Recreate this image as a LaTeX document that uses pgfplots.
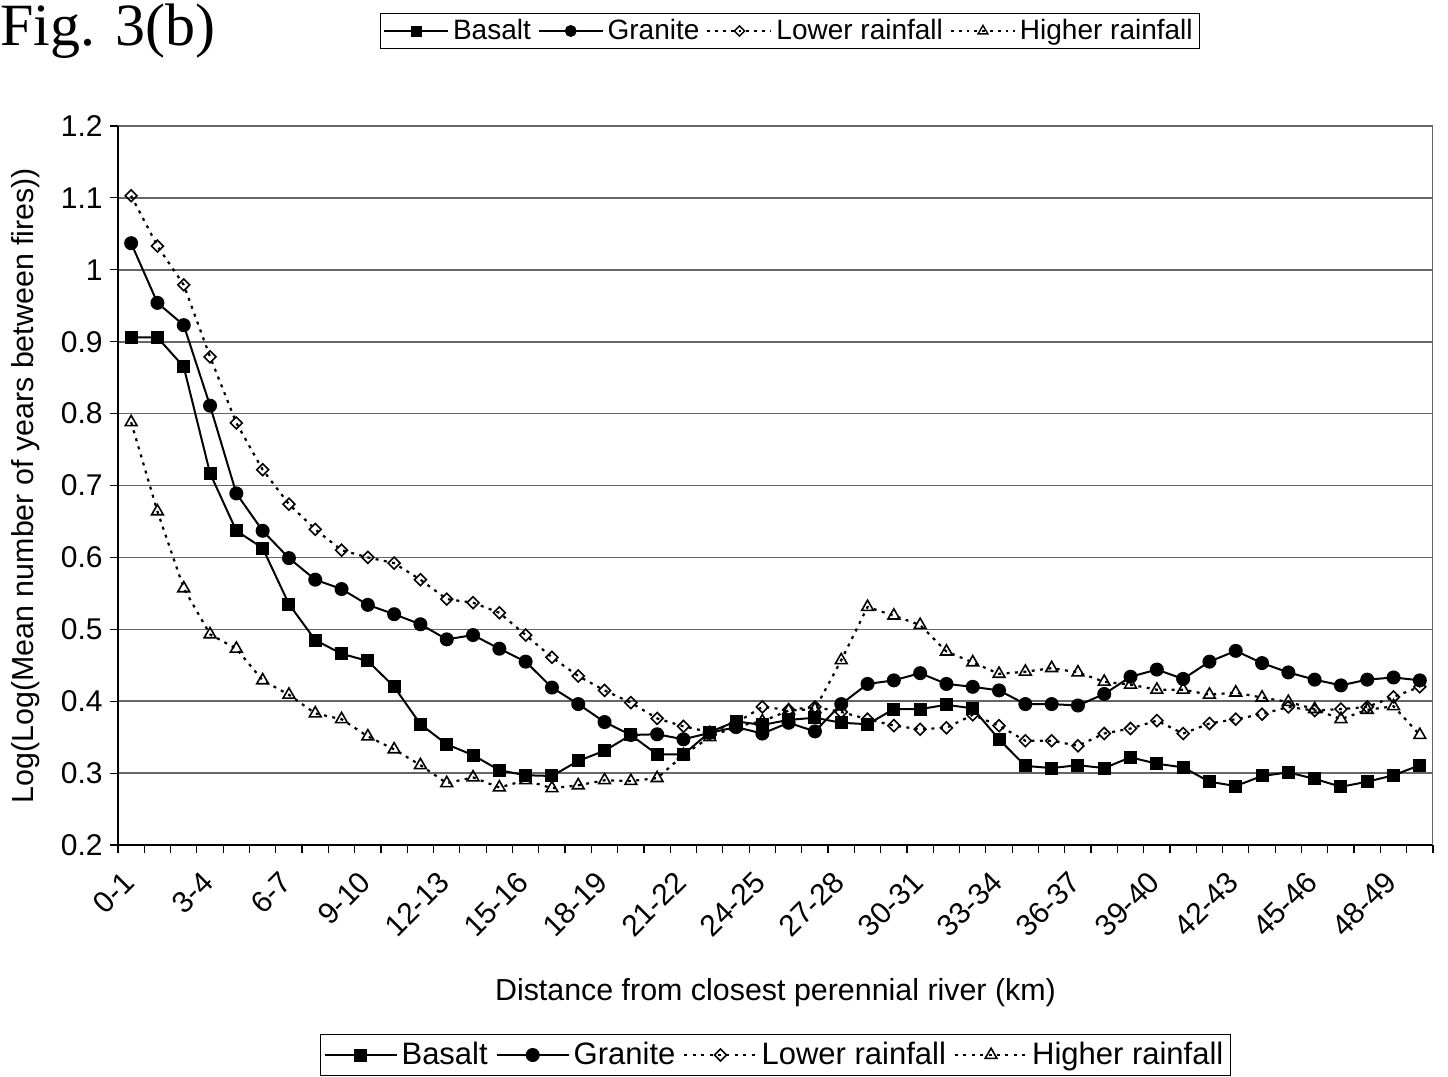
\documentclass[border=0pt]{standalone}
\usepackage{fontspec}
\setmainfont{Liberation Sans}
\newfontfamily\timesf{Liberation Serif}
\usepackage{pgfplots}
\pgfplotsset{compat=1.18}
\usepackage{pgfplotstable}

\pgfplotstableread{
x b g l h
0 0.906 1.037 1.103 0.788
1 0.906 0.954 1.033 0.664
2 0.865 0.923 0.979 0.557
3 0.717 0.811 0.879 0.493
4 0.637 0.689 0.787 0.473
5 0.613 0.637 0.722 0.429
6 0.535 0.599 0.674 0.409
7 0.485 0.569 0.639 0.383
8 0.466 0.556 0.610 0.375
9 0.456 0.534 0.600 0.351
10 0.420 0.521 0.592 0.333
11 0.368 0.507 0.569 0.311
12 0.340 0.486 0.542 0.286
13 0.325 0.492 0.537 0.294
14 0.304 0.473 0.523 0.280
15 0.297 0.455 0.492 0.290
16 0.296 0.419 0.461 0.279
17 0.317 0.396 0.435 0.283
18 0.331 0.371 0.415 0.290
19 0.353 0.353 0.398 0.289
20 0.326 0.354 0.376 0.293
21 0.326 0.347 0.365 0.325
22 0.357 0.356 0.357 0.350
23 0.372 0.364 0.370 0.365
24 0.367 0.355 0.392 0.372
25 0.374 0.370 0.388 0.387
26 0.377 0.358 0.392 0.389
27 0.370 0.396 0.385 0.457
28 0.368 0.424 0.375 0.531
29 0.389 0.429 0.366 0.519
30 0.389 0.439 0.361 0.506
31 0.395 0.424 0.363 0.469
32 0.390 0.420 0.381 0.454
33 0.347 0.415 0.366 0.438
34 0.310 0.396 0.345 0.441
35 0.307 0.396 0.345 0.446
36 0.311 0.394 0.338 0.440
37 0.307 0.410 0.355 0.427
38 0.322 0.434 0.362 0.423
39 0.313 0.444 0.373 0.416
40 0.308 0.431 0.355 0.416
41 0.288 0.455 0.369 0.409
42 0.282 0.470 0.375 0.412
43 0.296 0.453 0.382 0.405
44 0.301 0.440 0.392 0.399
45 0.292 0.430 0.387 0.389
46 0.281 0.422 0.389 0.375
47 0.288 0.430 0.392 0.388
48 0.297 0.433 0.406 0.393
49 0.311 0.429 0.420 0.353
}\data

\pgfplotsset{
  basaltstyle/.style={black, line width=1pt, mark=square*, mark size=2.75pt, mark options={solid}},
  granitestyle/.style={black, line width=1pt, mark=*, mark size=3pt, mark options={solid}},
  lowerstyle/.style={black, line width=1.1pt, dash pattern=on 1.5pt off 2.7pt, mark=square, mark size=2.1pt, mark options={solid, fill=white, rotate=45, line width=0.8pt}},
  higherstyle/.style={black, line width=1.1pt, dash pattern=on 1.5pt off 2.7pt, mark=triangle, mark size=3.4pt, mark options={solid, fill=white, line width=0.8pt}},
  % small variants for the top legend
  basaltsmall/.style={black, line width=0.9pt, mark=square*, mark size=2.3pt, mark options={solid}},
  granitesmall/.style={black, line width=0.9pt, mark=*, mark size=2.5pt, mark options={solid}},
  lowersmall/.style={black, line width=1pt, dash pattern=on 1.4pt off 2.5pt, mark=square, mark size=1.8pt, mark options={solid, fill=white, rotate=45, line width=0.7pt}},
  highersmall/.style={black, line width=1pt, dash pattern=on 1.4pt off 2.5pt, mark=triangle, mark size=2.8pt, mark options={solid, fill=white, line width=0.7pt}},
}

\begin{document}
\begin{tikzpicture}
\useasboundingbox (-59pt,-116pt) rectangle (665pt,422.5pt);
\node[anchor=base west, inner sep=0pt, font=\timesf\fontsize{30}{32}\selectfont] at (-59pt,399.5pt) {Fig. 3(b)};
\begin{axis}[
  scale only axis, width=657.5pt, height=359.5pt,
  xmin=-0.5, xmax=49.5, ymin=0.2, ymax=1.2,
  axis x line*=bottom, axis y line*=left,
  axis line style={-, black, line width=0.9pt},
  tick align=outside, major tick length=0pt, minor tick length=4pt,
  tick style={black, line width=0.6pt},
  xtick={0,3,...,48},
  xticklabels={0-1,3-4,6-7,9-10,12-13,15-16,18-19,21-22,24-25,27-28,30-31,33-34,36-37,39-40,42-43,45-46,48-49},
  minor xtick={-0.5,0.5,...,49.5},
  xticklabel style={xshift=-5pt, yshift=-12pt, rotate=45, anchor=north east, inner sep=0pt},
  ytick={0.2,0.3,0.4,0.5,0.6,0.7,0.8,0.9,1,1.1,1.2},
  minor ytick={0.2,0.3,0.4,0.5,0.6,0.7,0.8,0.9,1,1.1,1.2},
  ymajorgrids, grid style={black!60, line width=0.8pt},
  minor grid style={draw=none},
  /pgf/number format/assume math mode=true,
  tick label style={font=\fontsize{15}{18}\selectfont},
  yticklabel style={anchor=east, inner sep=0pt, xshift=-7.5pt},
  xlabel={Distance from closest perennial river (km)},
  xlabel style={at={(axis description cs:0.5,-0.2058)}, anchor=center, font=\fontsize{15.2}{18}\selectfont},
  ylabel={Log(Log(Mean number of years between fires))},
  ylabel style={at={(axis description cs:-0.0700,0.5)}, anchor=center, font=\fontsize{15.2}{18}\selectfont},
  legend image code/.code={\draw[mark repeat=2, mark phase=2, #1] plot coordinates {(0pt,0pt) (18pt,0pt) (36pt,0pt)};},
  legend columns=4,
  legend style={at={(axis description cs:0.5,-0.2921)}, anchor=center, draw=black, line width=0.6pt,
     font=\fontsize{15.5}{18}\selectfont, inner xsep=1.5pt, inner ysep=2pt,
     /tikz/every even column/.append style={column sep=2pt}},
]
\addplot[basaltstyle] table[x=x,y=b]{\data};
\addlegendentry{Basalt}
\addplot[granitestyle] table[x=x,y=g]{\data};
\addlegendentry{Granite}
\addplot[lowerstyle] table[x=x,y=l]{\data};
\addlegendentry{Lower rainfall}
\addplot[higherstyle] table[x=x,y=h]{\data};
\addlegendentry{Higher rainfall}
\draw[black!60, line width=0.8pt] (axis cs:49.5,0.2) -- (axis cs:49.5,1.2);
\end{axis}
\begin{axis}[
  scale only axis, width=657.5pt, height=359.5pt, hide axis,
  xmin=0, xmax=1, ymin=0, ymax=1,
  legend image code/.code={\draw[mark repeat=2, mark phase=2, #1] plot coordinates {(0pt,0pt) (16pt,0pt) (32pt,0pt)};},
  legend columns=4,
  legend style={at={(axis description cs:0.5110,1.1321)}, anchor=center, draw=black, line width=0.6pt,
     font=\fontsize{14}{16}\selectfont, inner xsep=1.5pt, inner ysep=1pt,
     /tikz/every even column/.append style={column sep=1.5pt}},
]
\addlegendimage{basaltsmall}
\addlegendentry{Basalt}
\addlegendimage{granitesmall}
\addlegendentry{Granite}
\addlegendimage{lowersmall}
\addlegendentry{Lower rainfall}
\addlegendimage{highersmall}
\addlegendentry{Higher rainfall}
\end{axis}
\end{tikzpicture}
\end{document}
